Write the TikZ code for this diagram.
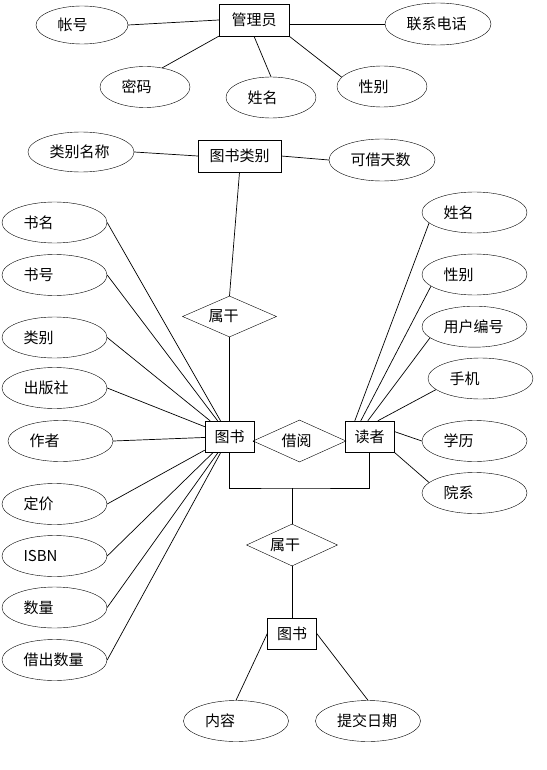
\documentclass[tikz,border=0pt]{standalone}
\usepackage{fontspec}
\newfontfamily\cjk{Noto Sans CJK SC}
\usetikzlibrary{shapes.geometric}
\begin{document}
\begin{tikzpicture}[x=1pt,y=-1pt,
  every node/.style={font=\cjk\fontsize{15}{17}\selectfont},
  ent/.style={draw, rectangle, inner sep=0pt, minimum width=49pt, minimum height=31pt},
  attr/.style={draw, ellipse, inner sep=0pt, minimum width=105pt, minimum height=41pt, text width=62pt, align=left},
  rel/.style={draw, diamond, aspect=2.2, inner sep=0pt, minimum width=93pt, minimum height=42pt},
  conn/.style={draw, line width=0.7pt}
]
\useasboundingbox (0,0) rectangle (546,770);
% ---------- administrator ----------
\node[ent, minimum width=70pt, minimum height=32pt] (admin) at (254,20) {管理员};
\node[attr, minimum width=92pt, minimum height=38pt, text width=49pt] (zh) at (82,25) {帐号};
\node[attr, minimum width=106pt, minimum height=42pt, text width=63pt] (lx) at (438,24) {联系电话};
\node[attr, minimum width=90pt, text width=47pt] (mm) at (145,87) {密码};
\node[attr, minimum width=90pt, text width=47pt] (xm1) at (271,97.5) {姓名};
\node[attr, minimum width=90pt, text width=47pt] (xb1) at (382,86.5) {性别};
\path[conn] (zh.east) -- (admin.west);
\path[conn] (lx.west) -- (lx.west -| admin.east);
\path[conn] (mm.48) -- (admin.south west);
\path[conn] (xm1.north) -- (admin.south);
\path[conn] (xb1.167) -- (admin.south east);
% ---------- category ----------
\node[ent, minimum width=83pt, minimum height=32pt] (cat) at (239.5,156) {图书类别};
\node[attr, minimum width=106pt, minimum height=40pt, text width=63pt] (lbmc) at (81,152) {类别名称};
\node[attr, minimum width=106pt, minimum height=42pt, text width=63pt] (kjts) at (382,160) {可借天数};
\path[conn] (lbmc.east) -- (cat.west);
\path[conn] (kjts.west) -- (cat.east);
% ---------- relations / entities ----------
\node[rel, minimum width=94pt, minimum height=41pt] (rel1) at (229.5,316.5) {\kern-12pt属干};
\node[ent] (book) at (229.5,436.5) {图书};
\node[rel] (rel0) at (299.5,441) {\kern-6pt借阅};
\node[ent] (reader) at (369.5,436.5) {读者};
\path[conn] (cat.south) -- (rel1.north);
\path[conn] (rel1.south) -- (book.north);
\path[conn] (rel0.west) -- (rel0.west -| book.east);
\path[conn] (rel0.east) -- (rel0.east -| reader.west);
% ---------- book attributes ----------
\node[attr] (sm) at (54.5,222.5) {书名};
\node[attr] (sh) at (54.5,275) {书号};
\node[attr] (lb) at (54.5,337.5) {类别};
\node[attr] (cbs) at (54.5,388) {出版社};
\node[attr] (zz) at (60.5,441) {作者};
\node[attr] (dj) at (54.5,504) {定价};
\node[attr] (isbn) at (54.5,556) {ISBN};
\node[attr] (sl) at (54.5,607.5) {数量};
\node[attr] (jcsl) at (54.5,660) {借出数量};
\foreach \a in {sm,sh,lb,cbs,zz,dj,isbn,sl,jcsl}
  \path[conn] (\a.east) -- (book);
% ---------- reader attributes ----------
\node[attr] (rxm) at (474.5,212.5) {姓名};
\node[attr] (rxb) at (474.5,274.5) {性别};
\node[attr] (yhbh) at (474.5,326.7) {用户编号};
\node[attr] (sj) at (480.5,378.5) {手机};
\node[attr] (xl) at (474.5,441) {学历};
\node[attr] (yx) at (474.5,493) {院系};
\path[conn] (rxm.193) -- ([xshift=10pt]reader.north west);
\path[conn] (rxb.195) -- ([xshift=16pt]reader.north west);
\path[conn] (yhbh.194) -- ([xshift=23pt]reader.north west);
\path[conn] (sj.194) -- ([xshift=33pt]reader.north west);
\path[conn] (xl.west) -- ([yshift=5pt]reader.east);
\path[conn] (yx.167) -- (reader.south east);
% ---------- lower part ----------
\coordinate (j) at (292,488);
\node[rel, minimum width=91pt] (rel2) at (292,545) {\kern-14pt属干};
\node[ent] (post) at (292,633.5) {图书};
\node[attr] (nr) at (236,721) {内容};
\node[attr] (tj) at (368,721) {提交日期};
\path[conn] (book.south) |- (j) -| (reader.south);
\path[conn] (j) -- (rel2.north);
\path[conn] (rel2.south) -- (post.north);
\path[conn] (post.west) -- (nr.north);
\path[conn] (post.east) -- (tj.north);
\end{tikzpicture}
\end{document}
